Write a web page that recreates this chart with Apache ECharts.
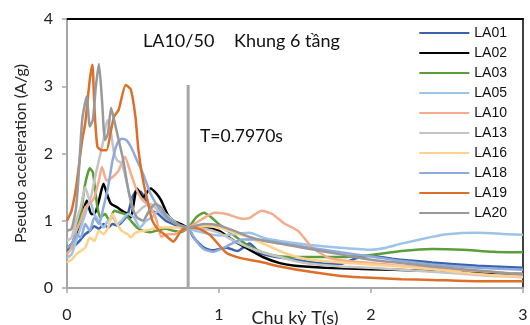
<!DOCTYPE html>
<html>
<head>
<meta charset="utf-8">
<script src="https://cdn.jsdelivr.net/npm/echarts@6/dist/echarts.min.js"></script>
<style>
  html, body { margin: 0; padding: 0; background: #fff; }
  #chart { width: 530px; height: 325px; }
</style>
</head>
<body>
<div id="chart"></div>
<script>
// Pseudo-acceleration response spectra, [period T (s), Sa (A/g)]
const LA01 = [[0,0.55],[0.03,0.6],[0.06,0.65],[0.09,0.72],[0.12,0.8],[0.15,0.85],[0.18,0.92],[0.21,0.88],[0.24,0.95],[0.27,0.9],[0.3,0.95],[0.33,0.93],[0.36,0.98],[0.4,1.1],[0.43,1.35],[0.46,1.45],[0.49,1.42],[0.52,1.3],[0.56,1.15],[0.6,1.1],[0.65,1.0],[0.7,0.95],[0.75,0.9],[0.8,0.88],[0.83,0.76],[0.9,0.6],[0.96,0.56],[1.05,0.6],[1.12,0.55],[1.2,0.66],[1.27,0.52],[1.35,0.47],[1.5,0.42],[1.7,0.36],[1.8,0.36],[1.9,0.44],[2.0,0.48],[2.15,0.43],[2.4,0.38],[2.7,0.33],[3.0,0.3]];
const LA02 = [[0,0.6],[0.03,0.65],[0.06,0.8],[0.09,1.0],[0.13,1.3],[0.16,1.1],[0.18,1.1],[0.21,1.3],[0.24,1.55],[0.27,1.35],[0.29,1.25],[0.33,1.2],[0.36,1.15],[0.4,1.1],[0.42,1.05],[0.46,1.48],[0.5,1.35],[0.55,1.48],[0.59,1.4],[0.62,1.3],[0.66,1.1],[0.7,1.0],[0.75,0.95],[0.8,0.9],[0.9,0.9],[1.0,0.85],[1.1,0.7],[1.2,0.57],[1.3,0.45],[1.4,0.37],[1.5,0.33],[1.7,0.3],[2.0,0.28],[2.3,0.26],[2.6,0.24],[3.0,0.21]];
const LA03 = [[0,0.52],[0.03,0.6],[0.06,0.85],[0.09,1.1],[0.12,1.55],[0.15,1.78],[0.17,1.72],[0.2,1.2],[0.22,1.05],[0.25,1.1],[0.28,1.0],[0.31,1.15],[0.35,1.12],[0.38,1.1],[0.42,1.0],[0.46,0.9],[0.5,0.85],[0.55,0.83],[0.6,0.86],[0.65,0.88],[0.7,0.85],[0.75,0.83],[0.8,0.9],[0.85,1.05],[0.9,1.12],[0.95,1.05],[1.0,0.95],[1.1,0.78],[1.2,0.62],[1.3,0.52],[1.4,0.47],[1.6,0.46],[1.8,0.46],[2.0,0.49],[2.2,0.55],[2.4,0.58],[2.6,0.57],[2.8,0.54],[3.0,0.53]];
const LA05 = [[0,0.45],[0.03,0.5],[0.06,0.7],[0.09,0.9],[0.12,1.1],[0.15,1.3],[0.18,1.1],[0.21,1.0],[0.24,0.9],[0.27,1.0],[0.3,1.05],[0.33,0.95],[0.36,1.0],[0.4,1.1],[0.44,1.05],[0.48,0.9],[0.52,1.0],[0.56,1.05],[0.6,1.15],[0.65,1.1],[0.7,1.0],[0.75,0.92],[0.8,0.88],[0.9,0.82],[1.0,0.78],[1.1,0.8],[1.2,0.82],[1.3,0.74],[1.4,0.7],[1.6,0.64],[1.8,0.6],[2.0,0.57],[2.1,0.6],[2.2,0.66],[2.4,0.76],[2.5,0.8],[2.7,0.82],[2.9,0.8],[3.0,0.79]];
const LA10 = [[0,0.5],[0.03,0.6],[0.06,0.85],[0.09,1.0],[0.12,1.2],[0.15,1.25],[0.18,1.35],[0.21,1.6],[0.23,1.8],[0.26,1.6],[0.3,1.65],[0.34,1.75],[0.38,1.95],[0.42,1.7],[0.46,1.45],[0.5,1.3],[0.55,1.2],[0.59,1.0],[0.62,0.76],[0.66,0.8],[0.7,0.8],[0.75,0.85],[0.8,0.9],[0.9,1.04],[0.97,1.12],[1.05,1.1],[1.15,1.03],[1.2,1.04],[1.28,1.15],[1.35,1.1],[1.43,0.96],[1.52,0.85],[1.61,0.61],[1.72,0.45],[1.85,0.4],[2.15,0.34],[2.5,0.28],[3.0,0.21]];
const LA13 = [[0,0.7],[0.03,0.75],[0.06,1.0],[0.09,1.2],[0.12,1.5],[0.15,1.3],[0.18,1.6],[0.21,1.9],[0.24,2.2],[0.265,2.5],[0.29,2.3],[0.31,2.0],[0.33,1.9],[0.36,1.85],[0.39,1.6],[0.42,1.3],[0.45,1.1],[0.5,1.2],[0.55,1.25],[0.6,1.15],[0.65,1.05],[0.7,0.98],[0.75,0.92],[0.8,0.9],[0.9,0.88],[1.0,0.82],[1.1,0.7],[1.2,0.6],[1.3,0.52],[1.4,0.46],[1.5,0.4],[1.6,0.36],[1.8,0.32],[2.0,0.3],[2.2,0.27],[2.4,0.24],[2.6,0.21],[2.8,0.18],[3.0,0.16]];
const LA16 = [[0,0.38],[0.03,0.42],[0.06,0.5],[0.09,0.55],[0.12,0.6],[0.15,0.75],[0.18,0.7],[0.21,0.85],[0.24,0.8],[0.27,0.9],[0.3,1.1],[0.33,0.95],[0.36,0.85],[0.4,0.8],[0.42,0.75],[0.45,0.82],[0.5,0.85],[0.55,0.87],[0.6,0.9],[0.7,0.9],[0.8,0.9],[0.9,0.92],[1.0,0.9],[1.1,0.82],[1.2,0.75],[1.3,0.65],[1.4,0.55],[1.5,0.47],[1.6,0.42],[1.8,0.38],[2.0,0.35],[2.2,0.32],[2.4,0.28],[2.6,0.23],[2.8,0.19],[3.0,0.17]];
const LA18 = [[0,0.6],[0.03,0.65],[0.06,0.8],[0.09,0.75],[0.12,0.95],[0.15,0.85],[0.18,1.05],[0.21,0.95],[0.24,1.2],[0.27,1.5],[0.3,1.9],[0.33,2.15],[0.36,2.22],[0.39,2.2],[0.42,2.1],[0.46,1.9],[0.5,1.7],[0.55,1.4],[0.6,1.2],[0.65,1.05],[0.7,0.98],[0.75,0.92],[0.8,0.88],[0.85,0.7],[0.9,0.58],[0.96,0.54],[1.05,0.62],[1.15,0.72],[1.25,0.72],[1.4,0.67],[1.6,0.6],[1.8,0.53],[2.0,0.47],[2.2,0.4],[2.4,0.35],[2.7,0.3],[3.0,0.27]];
const LA19 = [[0,1.0],[0.03,1.15],[0.06,1.5],[0.08,1.85],[0.1,2.2],[0.12,2.45],[0.15,3.1],[0.167,3.32],[0.18,2.7],[0.2,2.1],[0.23,2.05],[0.26,2.05],[0.29,2.35],[0.31,2.55],[0.34,2.65],[0.386,3.02],[0.42,2.95],[0.45,2.55],[0.47,2.05],[0.5,1.6],[0.53,1.3],[0.56,1.01],[0.6,0.87],[0.65,0.78],[0.7,0.69],[0.75,0.85],[0.8,0.9],[0.87,0.88],[0.94,0.79],[1.05,0.52],[1.15,0.44],[1.27,0.39],[1.4,0.32],[1.6,0.24],[1.8,0.18],[1.93,0.16],[2.2,0.13],[2.4,0.12],[2.7,0.1],[3.0,0.1]];
const LA20 = [[0,0.85],[0.03,0.88],[0.06,1.2],[0.08,1.8],[0.1,2.5],[0.13,2.85],[0.15,2.4],[0.17,2.5],[0.19,3.0],[0.21,3.33],[0.23,2.8],[0.25,2.2],[0.27,2.3],[0.29,2.68],[0.31,2.5],[0.34,2.2],[0.37,1.9],[0.4,1.5],[0.43,1.2],[0.46,1.05],[0.5,1.0],[0.54,1.15],[0.58,1.25],[0.62,1.2],[0.66,1.05],[0.7,0.98],[0.75,0.93],[0.8,0.9],[0.9,0.95],[1.0,0.93],[1.1,0.85],[1.2,0.76],[1.3,0.7],[1.4,0.66],[1.5,0.62],[1.6,0.58],[1.8,0.5],[2.0,0.42],[2.2,0.37],[2.4,0.32],[2.6,0.28],[2.8,0.24],[3.0,0.2]];

const seriesNames = ['LA01','LA02','LA03','LA05','LA10','LA13','LA16','LA18','LA19','LA20'];
const seriesData  = [LA01, LA02, LA03, LA05, LA10, LA13, LA16, LA18, LA19, LA20];
const seriesColors = ['#3A63AD','#000000','#5A9E3A','#9DC3E6','#F4AC8C','#C4C4C4','#FFD18C','#8FAADC','#DD6F2A','#999999'];

// Fundamental period of the frame
const T1 = 0.797;
const T1_LINE = [[T1, 0], [T1, 3.02]];

const xTicks = [0, 1, 2, 3];
const yTicks = [0, 1, 2, 3, 4];

const chart = echarts.init(document.getElementById('chart'));
const lineSeries = seriesNames.map((name, i) => ({
  name: name,
  type: 'line',
  data: seriesData[i],
  showSymbol: false,
  smooth: 0.2,
  lineStyle: { width: 2.5, color: seriesColors[i] },
  itemStyle: { color: seriesColors[i] },
  z: 3 + i
}));

lineSeries.push({
  name: 'T1',
  type: 'line',
  data: T1_LINE,
  showSymbol: false,
  lineStyle: { width: 3, color: '#A6A6A6' },
  z: 20,
  silent: true
});

const axisFont = { fontFamily: 'Lato', fontSize: 16, color: '#222' };

chart.setOption({
  animation: false,
  backgroundColor: '#fff',
  grid: { left: 67, right: 7, top: 19, bottom: 37, containLabel: false, outerBoundsMode: 'none' },
  legend: {
    data: seriesNames,
    orient: 'vertical',
    right: 18,
    top: 21,
    itemWidth: 50,
    itemHeight: 14,
    itemGap: 6,
    icon: 'path://M0,6 L50,6 L50,8 L0,8 Z',
    textStyle: { fontFamily: 'Liberation Sans', fontSize: 14, color: '#111' }
  },
  xAxis: [{
    type: 'value',
    min: xTicks[0], max: xTicks[xTicks.length - 1], interval: 1,
    name: 'Chu kỳ T(s)',
    nameLocation: 'middle',
    nameGap: 21,
    nameMoveOverlap: false,
    nameTextStyle: { fontFamily: 'Lato', fontSize: 18, color: '#222' },
    axisLine: { show: true, lineStyle: { color: '#A6A6A6', width: 2 } },
    axisTick: { show: true, length: 5, lineStyle: { color: '#A6A6A6', width: 1.5 } },
    axisLabel: Object.assign({ margin: 19 }, axisFont),
    splitLine: { show: false }
  }, {
    type: 'value', position: 'top',
    min: 0, max: 3,
    axisLine: { show: true, onZero: false, lineStyle: { color: '#000', width: 2 } },
    axisTick: { show: false }, axisLabel: { show: false }, splitLine: { show: false }
  }],
  yAxis: [{
    type: 'value',
    min: yTicks[0], max: yTicks[yTicks.length - 1], interval: 1,
    name: 'Pseudo acceleration (A/g)',
    nameLocation: 'middle',
    nameGap: 38,
    nameMoveOverlap: false,
    nameTextStyle: axisFont,
    axisLine: { show: true, lineStyle: { color: '#A6A6A6', width: 2 } },
    axisTick: { show: true, length: 5, lineStyle: { color: '#A6A6A6', width: 1.5 } },
    axisLabel: Object.assign({ margin: 14 }, axisFont),
    splitLine: { show: false }
  }, {
    type: 'value', position: 'right',
    min: 0, max: 4,
    axisLine: { show: true, onZero: false, lineStyle: { color: '#000', width: 1.5 } },
    axisTick: { show: false }, axisLabel: { show: false }, splitLine: { show: false }
  }],
  graphic: [
    { type: 'text', left: 143, top: 32, style: { text: 'LA10/50', font: '18px Lato', fill: '#111' } },
    { type: 'text', left: 234, top: 32, style: { text: 'Khung 6 tầng', font: '18px Lato', fill: '#111' } },
    { type: 'text', left: 200, top: 127, style: { text: 'T=' + T1.toFixed(4) + 's', font: '17.5px Lato', fill: '#111' } }
  ],
  series: lineSeries
});
</script>
</body>
</html>
